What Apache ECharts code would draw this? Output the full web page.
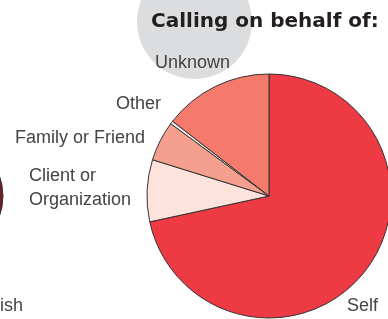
<!DOCTYPE html>
<html>
<head>
<meta charset="utf-8">
<script src="https://cdn.jsdelivr.net/npm/echarts@6/dist/echarts.min.js"></script>
<style>
html,body{margin:0;padding:0;background:#fff;}
#c{width:388px;height:319px;}
</style>
</head>
<body>
<div id="c"></div>
<script>
const categories = ['Self', 'Client or\nOrganization', 'Family or Friend', 'Other', 'Unknown'];
const values = [71.6, 8.2, 5.3, 0.4, 14.5];
const colors = ['#EE3A43', '#FDE3DC', '#F5A08E', '#F2F0EE', '#F47A6C'];
const titleText = 'Calling on behalf of:';
const sideLabel = 'English';

const labelPos = {
  'Self': {x: 347, y: 306, align: 'left'},
  'Client or\nOrganization': {x: 29, y: 188, align: 'left'},
  'Family or Friend': {x: 145, y: 138, align: 'right'},
  'Other': {x: 161, y: 104, align: 'right'},
  'Unknown': {x: 155, y: 63, align: 'left'}
};

const chart = echarts.init(document.getElementById('c'));
chart.setOption({
  animation: false,
  title: {
    text: titleText,
    left: 146,
    top: 7,
    textStyle: {fontFamily: 'DejaVu Sans', fontWeight: 'bold', fontSize: 20, color: '#231F20'},
    z: 10
  },
  graphic: [
    {type: 'circle', shape: {cx: 194.5, cy: 21.5, r: 57.5}, style: {fill: '#DCDDDF'}, z: 0},
    {type: 'circle', shape: {cx: -58, cy: 196, r: 61}, style: {fill: '#6E1E28', stroke: '#333', lineWidth: 1}, z: 0},
    {type: 'text', style: {text: sideLabel, x: 23, y: 306, align: 'right', verticalAlign: 'middle',
      fontFamily: 'Liberation Sans', fontSize: 18, fill: '#444'}, z: 5}
  ],
  series: [{
    type: 'pie',
    center: [269, 196],
    radius: 122,
    startAngle: 90,
    clockwise: true,
    z: 3,
    data: categories.map((c, i) => ({name: c, value: values[i], itemStyle: {color: colors[i]}})),
    itemStyle: {borderColor: '#333', borderWidth: 1},
    label: {
      show: true,
      formatter: '{b}',
      fontFamily: 'Liberation Sans',
      fontSize: 18,
      lineHeight: 24,
      color: '#444',
      overflow: 'none'
    },
    labelLine: {show: false},
    labelLayout: function (p) {
      const name = categories[p.dataIndex];
      const pos = labelPos[name];
      return {x: pos.x, y: pos.y, align: pos.align, verticalAlign: 'middle'};
    },
    emphasis: {disabled: true}
  }]
});
</script>
</body>
</html>
